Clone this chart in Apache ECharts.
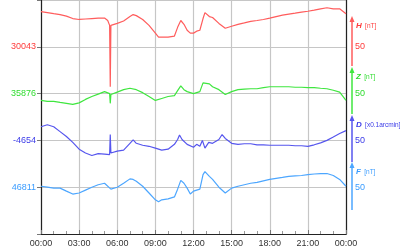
<!DOCTYPE html>
<html>
<head>
<meta charset="utf-8">
<script src="https://cdn.jsdelivr.net/npm/echarts@6/dist/echarts.min.js"></script>
<style>html,body{margin:0;padding:0;background:#fff;}#c{width:400px;height:250px;}</style>
</head>
<body>
<div id="c"></div>
<script>
// Hours of day (0-24) and values for each component
const hTimes = [0,0.5,1,1.5,2,2.5,3,3.5,4,4.5,5,5.25,5.4,5.45,5.5,6,6.5,7,7.25,7.5,8,8.5,9,9.25,9.5,10,10.5,10.75,11,11.25,11.5,11.75,12,12.25,12.5,12.75,12.9,13.25,13.5,14,14.5,15,15.5,16,16.5,17,17.5,18,18.5,19,19.5,20,20.5,21,21.5,22,22.5,23,23.5,24];
const hValues = [30080.5,30079.5,30078.4,30077.4,30075.8,30073.2,30072.2,30072.7,30073.2,30073.7,30073.7,30071.1,30065.9,30000.3,30065.9,30068.0,30070.6,30075.3,30077.4,30076.3,30072.2,30065.9,30057.6,30053.4,30053.4,30053.4,30054.5,30063.8,30071.1,30067.0,30060.7,30057.6,30057.6,30059.7,30060.7,30073.2,30079.5,30075.3,30074.3,30068.0,30062.8,30064.9,30067.0,30068.5,30070.1,30071.1,30072.2,30073.7,30075.3,30076.9,30077.9,30078.9,30080.0,30081.0,30082.1,30083.6,30084.7,30083.6,30083.6,30078.4];

const zTimes = [0,0.5,1,1.5,2,2.5,3,3.5,4,4.5,5,5.4,5.45,5.5,6,6.5,7,7.5,8,8.5,9,9.5,10,10.5,10.75,11,11.25,11.5,12,12.5,12.75,12.9,13.25,13.5,14,14.5,15,15.5,16,16.5,17,17.5,18,18.5,19,19.5,20,20.5,21,21.5,22,22.5,23,23.5,24];
const zValues = [35868.7,35867.7,35867.7,35866.6,35865.6,35864.5,35866.1,35869.8,35872.9,35875.5,35878.1,35876.0,35865.6,35875.0,35877.6,35880.2,35881.7,35880.2,35877.0,35872.9,35868.7,35870.8,35872.9,35873.9,35879.1,35884.3,35880.2,35878.1,35876.0,35878.1,35887.5,35889.5,35886.4,35883.3,35880.2,35875.0,35878.1,35880.2,35880.7,35881.2,35881.2,35882.3,35883.3,35883.3,35883.3,35883.3,35882.8,35882.8,35882.3,35882.3,35881.7,35881.2,35879.6,35877.6,35868.7];

const dTimes = [0,0.5,1,1.5,2,2.5,3,3.5,4,4.5,5,5.4,5.45,5.5,6,6.5,7,7.25,7.5,8,8.5,9,9.5,10,10.5,10.75,10.9,11.1,11.5,12,12.25,12.5,12.7,12.9,13.2,13.5,14,14.25,14.5,15,15.5,16,16.5,17,17.5,18,18.5,19,19.5,20,20.5,21,21.5,22,22.5,23,23.5,24];
const dValues = [-4639.4,-4637.3,-4639.4,-4644.6,-4649.8,-4656.1,-4663.4,-4667.5,-4670.1,-4668.1,-4668.6,-4669.1,-4647.7,-4667.5,-4665.5,-4664.4,-4657.1,-4653.5,-4657.1,-4659.2,-4660.3,-4662.3,-4664.4,-4663.4,-4658.2,-4653.0,-4648.3,-4653.0,-4658.2,-4661.3,-4658.2,-4660.3,-4654.0,-4662.3,-4656.1,-4657.1,-4653.0,-4647.7,-4651.9,-4657.1,-4658.2,-4657.6,-4657.6,-4658.7,-4658.7,-4659.2,-4659.2,-4659.2,-4659.2,-4659.7,-4659.7,-4660.3,-4658.7,-4656.6,-4654.0,-4650.4,-4646.7,-4643.6];

const fTimes = [0,0.5,1,1.5,2,2.5,3,3.5,4,4.5,5,5.5,6,6.5,7,7.25,7.5,8,8.5,9,9.25,9.5,10,10.5,10.75,11,11.25,11.5,11.75,12,12.5,12.75,12.9,13.25,13.5,14,14.5,15,15.5,16,16.5,17,17.5,18,18.5,19,19.5,20,20.5,21,21.5,22,22.5,23,23.5,24];
const fValues = [46812.0,46811.0,46810.0,46810.0,46806.8,46803.7,46804.8,46807.9,46811.0,46813.6,46815.2,46808.9,46811.0,46815.2,46819.9,46819.3,46817.3,46812.0,46804.8,46797.5,46795.4,46797.5,46798.5,46800.6,46808.9,46818.3,46815.2,46810.0,46803.7,46806.8,46808.9,46824.5,46827.7,46822.5,46819.3,46811.0,46804.8,46810.0,46812.0,46813.6,46815.2,46816.2,46817.8,46819.3,46820.4,46821.4,46822.5,46823.0,46823.5,46824.5,46825.1,46825.6,46825.6,46823.5,46819.3,46812.0];

// Base (reference) values shown on the left, scale labels on the right
const baseLabels = {H: '30043', Z: '35876', D: '-4654', F: '46811'};
const scaleLabel = '50';
const units = {H: '[nT]', Z: '[nT]', D: '[x0.1arcmin]', F: '[nT]'};

const colors = {H: '#ff5c5c', Z: '#3fe63f', D: '#5656ee', F: '#4ca6ff'};
const labelColors = {H: '#ff3b3b', Z: '#2fdc2f', D: '#3a3ae8', F: '#3a9cff'};

function pairs(t, v) { return t.map((x, i) => [x, v[i]]); }

const levelKey = {192: 'H', 144: 'Z', 96: 'D', 48: 'F'};

const chart = echarts.init(document.getElementById('c'), null, {renderer: 'canvas'});

const arrowX = 352;
const arrows = [
  {k: 'H', top: 16, bottom: 66},
  {k: 'Z', top: 67, bottom: 114},
  {k: 'D', top: 115, bottom: 162},
  {k: 'F', top: 162, bottom: 210}
];
const graphic = [];
arrows.forEach(a => {
  graphic.push({type: 'line', silent: true, shape: {x1: arrowX, y1: a.top + 4, x2: arrowX, y2: a.bottom},
    style: {stroke: colors[a.k], lineWidth: 1.5}});
  graphic.push({type: 'polygon', silent: true, shape: {points: [[arrowX - 2.5, a.top + 6], [arrowX, a.top], [arrowX + 2.5, a.top + 6]]},
    style: {fill: colors[a.k]}});
  graphic.push({type: 'text', silent: true, x: 356, y: a.top + 10,
    style: {text: '{i|' + a.k + '} {u|' + units[a.k] + '}', verticalAlign: 'middle',
      rich: {i: {fontSize: 8, fontStyle: 'italic', fontWeight: 'bold', fill: labelColors[a.k], fontFamily: 'Liberation Sans'},
             u: {fontSize: 6.5, fill: labelColors[a.k], fontFamily: 'Liberation Sans'}}}});
});

const rich = {};
Object.keys(labelColors).forEach(k => { rich[k] = {color: labelColors[k], fontSize: 9, fontFamily: 'Liberation Sans'}; });

chart.setOption({
  animation: false,
  backgroundColor: '#fff',
  grid: {left: 41, right: 54, top: -6, bottom: 16, containLabel: false},
  xAxis: {
    type: 'value', min: 0, max: 24, interval: 3,
    axisLine: {show: true, lineStyle: {color: '#222', width: 1.2}},
    axisTick: {show: true, inside: true, length: 4, lineStyle: {color: '#777'}},
    minorTick: {show: true, splitNumber: 3, length: 3, lineStyle: {color: '#999'}},
    splitLine: {show: true, lineStyle: {color: '#c6c6c6', width: 1.2}},
    axisLabel: {fontSize: 9, color: '#333', margin: 5, fontFamily: 'Liberation Sans',
      formatter: v => String(v % 24).padStart(2, '0') + ':00'}
  },
  yAxis: [
    {type: 'value', min: 0, max: 240, interval: 48, position: 'left',
      axisLine: {show: true, lineStyle: {color: '#222', width: 1.2}},
      axisTick: {show: true, length: 4, lineStyle: {color: '#777'}},
      splitLine: {show: true, lineStyle: {color: '#c6c6c6', width: 1.2}},
      axisLabel: {margin: 5, rich: rich, formatter: v => levelKey[v] ? '{' + levelKey[v] + '|' + baseLabels[levelKey[v]] + '}' : ''}},
    {type: 'value', min: 0, max: 240, interval: 48, position: 'right',
      axisLine: {show: true, lineStyle: {color: '#222', width: 1.2}},
      axisTick: {show: false},
      splitLine: {show: false},
      axisLabel: {margin: 9, rich: rich, formatter: v => levelKey[v] ? '{' + levelKey[v] + '|' + scaleLabel + '}' : ''}},
    {type: 'value', show: false, min: 29843, max: 30093},
    {type: 'value', show: false, min: 35726, max: 35976},
    {type: 'value', show: false, min: -4754, max: -4504},
    {type: 'value', show: false, min: 46761, max: 47011}
  ],
  series: [
    {name: 'H', type: 'line', yAxisIndex: 2, data: pairs(hTimes, hValues), showSymbol: false, lineStyle: {color: colors.H, width: 1.2}},
    {name: 'Z', type: 'line', yAxisIndex: 3, data: pairs(zTimes, zValues), showSymbol: false, lineStyle: {color: colors.Z, width: 1.2}},
    {name: 'D', type: 'line', yAxisIndex: 4, data: pairs(dTimes, dValues), showSymbol: false, lineStyle: {color: colors.D, width: 1.2}},
    {name: 'F', type: 'line', yAxisIndex: 5, data: pairs(fTimes, fValues), showSymbol: false, lineStyle: {color: colors.F, width: 1.2}}
  ],
  graphic: graphic
});
</script>
</body>
</html>
